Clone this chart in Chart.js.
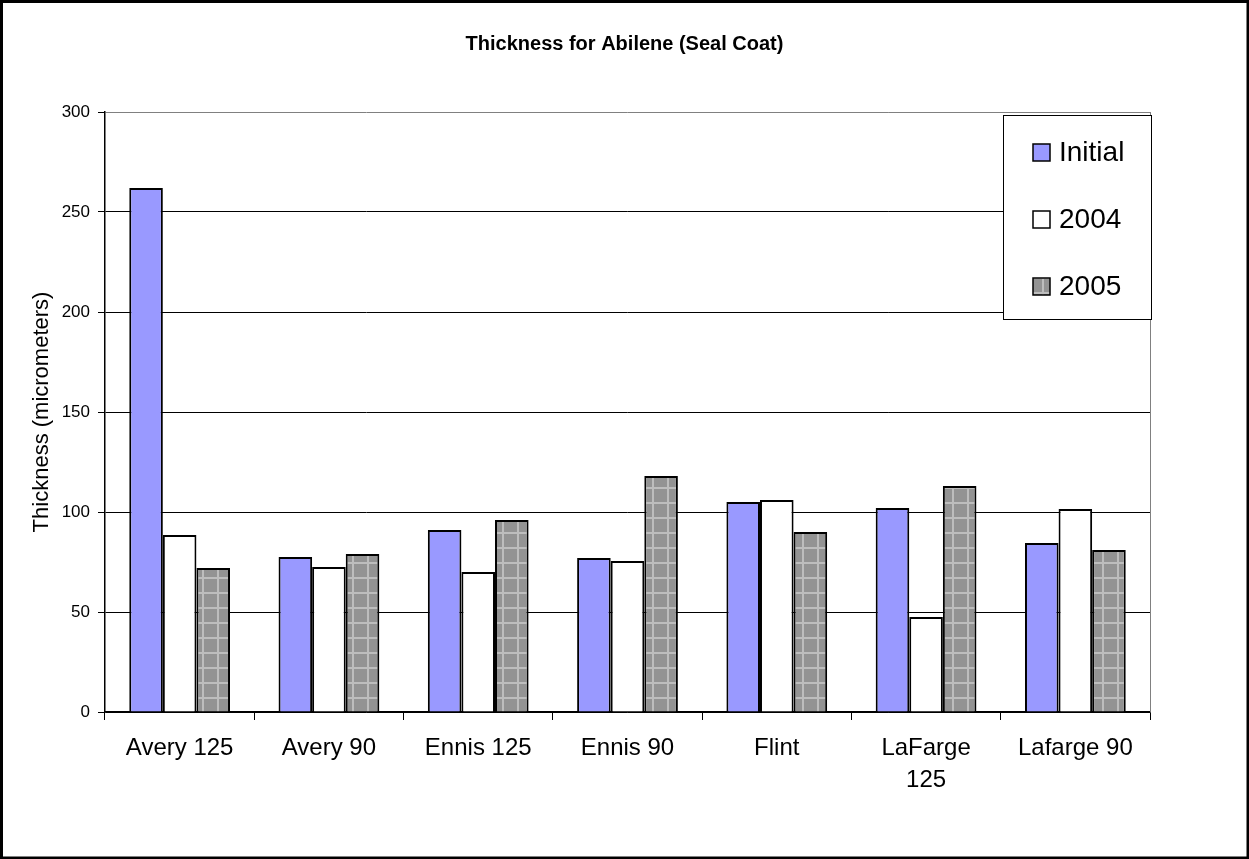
<!DOCTYPE html>
<html>
<head>
<meta charset="utf-8">
<script src="https://cdn.jsdelivr.net/npm/chart.js@4.4.1/dist/chart.umd.min.js"></script>
<style>
  html, body { margin: 0; padding: 0; background: #fff; }
  #wrap { width: 1249px; height: 859px; position: relative; }
</style>
</head>
<body>
<div id="wrap"><canvas id="grafico" width="1249" height="859"></canvas></div>
<script>
const categorias = ['Avery 125', 'Avery 90', 'Ennis 125', 'Ennis 90', 'Flint', ['LaFarge', '125'], 'Lafarge 90'];
const inicial = [262, 77.5, 91, 77, 105, 102, 84.5];
const v2004 = [88.5, 72.5, 70, 75.5, 106, 47.5, 101.5];
const v2005 = [72, 79, 96, 118, 90, 113, 81];
const ticksY = [0, 50, 100, 150, 200, 250, 300];

// trama gris con cuadricula clara para 2005
function trama() {
  const c = document.createElement('canvas');
  c.width = 15; c.height = 15;
  const g = c.getContext('2d');
  g.fillStyle = '#939393';
  g.fillRect(0, 0, 15, 15);
  g.fillStyle = '#bdbdbd';
  g.fillRect(7, 0, 2, 15);
  g.fillRect(0, 7, 15, 2);
  return g.createPattern(c, 'repeat');
}
const relleno2005 = trama();

const marco = {
  id: 'marco',
  beforeDraw(chart) {
    const ctx = chart.ctx;
    ctx.save();
    ctx.fillStyle = '#fff';
    ctx.fillRect(0, 0, chart.width, chart.height);
    ctx.restore();
  },
  afterDraw(chart) {
    const ctx = chart.ctx, a = chart.chartArea;
    ctx.save();
    // borde derecho del area
    ctx.strokeStyle = '#808080';
    ctx.lineWidth = 1;
    ctx.beginPath();
    ctx.moveTo(a.right + 0.5, a.top);
    ctx.lineTo(a.right + 0.5, a.bottom);
    ctx.stroke();
    // leyenda dentro del area
    const lx = 1003, ly = 115, lw = 148, lh = 204;
    ctx.fillStyle = '#fff';
    ctx.fillRect(lx, ly, lw, lh);
    ctx.strokeStyle = '#000';
    ctx.strokeRect(lx + 0.5, ly + 0.5, lw, lh);
    ctx.font = '28px "Liberation Sans", Arial, sans-serif';
    ctx.textBaseline = 'middle';
    chart.data.datasets.forEach((ds, i) => {
      const cy = 152 + i * 67;
      ctx.fillStyle = ds.backgroundColor;
      ctx.fillRect(1033, cy - 8, 17, 17);
      ctx.lineWidth = 1.5;
      ctx.strokeStyle = '#000';
      ctx.strokeRect(1033, cy - 8, 17, 17);
      ctx.fillStyle = '#000';
      ctx.fillText(ds.label, 1059, cy + 1);
    });
    // marco exterior
    ctx.lineWidth = 3;
    ctx.strokeStyle = '#000';
    ctx.strokeRect(1.5, 1.5, chart.width - 2.5, chart.height - 2.5);
    ctx.restore();
  }
};

new Chart(document.getElementById('grafico'), {
  type: 'bar',
  data: {
    labels: categorias,
    datasets: [
      { label: 'Initial', data: inicial, backgroundColor: '#9999ff' },
      { label: '2004', data: v2004, backgroundColor: '#ffffff' },
      { label: '2005', data: v2005, backgroundColor: relleno2005 }
    ]
  },
  options: {
    responsive: false,
    animation: false,
    layout: { padding: 0 },
    datasets: {
      bar: { borderColor: '#000', borderWidth: 2, categoryPercentage: 0.675, barPercentage: 1 }
    },
    plugins: {
      legend: { display: false },
      tooltip: { enabled: false },
      title: {
        display: true,
        text: 'Thickness for Abilene (Seal Coat)',
        color: '#000',
        font: { family: '"Liberation Sans", Arial, sans-serif', size: 20, weight: 'bold' },
        padding: { top: 32, bottom: 56 }
      }
    },
    scales: {
      x: {
        grid: { offset: true, drawOnChartArea: false, color: '#000', tickLength: 8 },
        border: { color: '#000', width: 1.5 },
        ticks: {
          color: '#000', padding: 12, maxRotation: 0, autoSkip: false,
          font: { family: '"Liberation Sans", Arial, sans-serif', size: 24, lineHeight: 1.33 }
        },
        afterFit(s) { s.height = 147; }
      },
      y: {
        min: 0, max: 300,
        afterBuildTicks(s) { s.ticks = ticksY.map(v => ({ value: v })); },
        grid: {
          color: c => (c.tick && c.tick.value === 300 ? '#808080' : '#000'),
          tickColor: '#000', tickLength: 7
        },
        border: { color: '#000', width: 1.5 },
        ticks: {
          color: '#000', padding: 8,
          font: { family: '"Liberation Sans", Arial, sans-serif', size: 17 }
        },
        title: {
          display: true,
          text: 'Thickness (micrometers)',
          color: '#000',
          font: { family: '"Liberation Sans", Arial, sans-serif', size: 22 },
          padding: { top: 29, bottom: 0 }
        },
        afterFit(s) { s.width = 105; }
      },
      // eje vacio a la derecha para dejar el margen y centrar el titulo en el lienzo
      margenDer: {
        position: 'right',
        min: 0, max: 300,
        grid: { display: false },
        border: { display: false },
        ticks: { display: false },
        afterFit(s) { s.width = 99; }
      }
    }
  },
  plugins: [marco]
});
</script>
</body>
</html>
